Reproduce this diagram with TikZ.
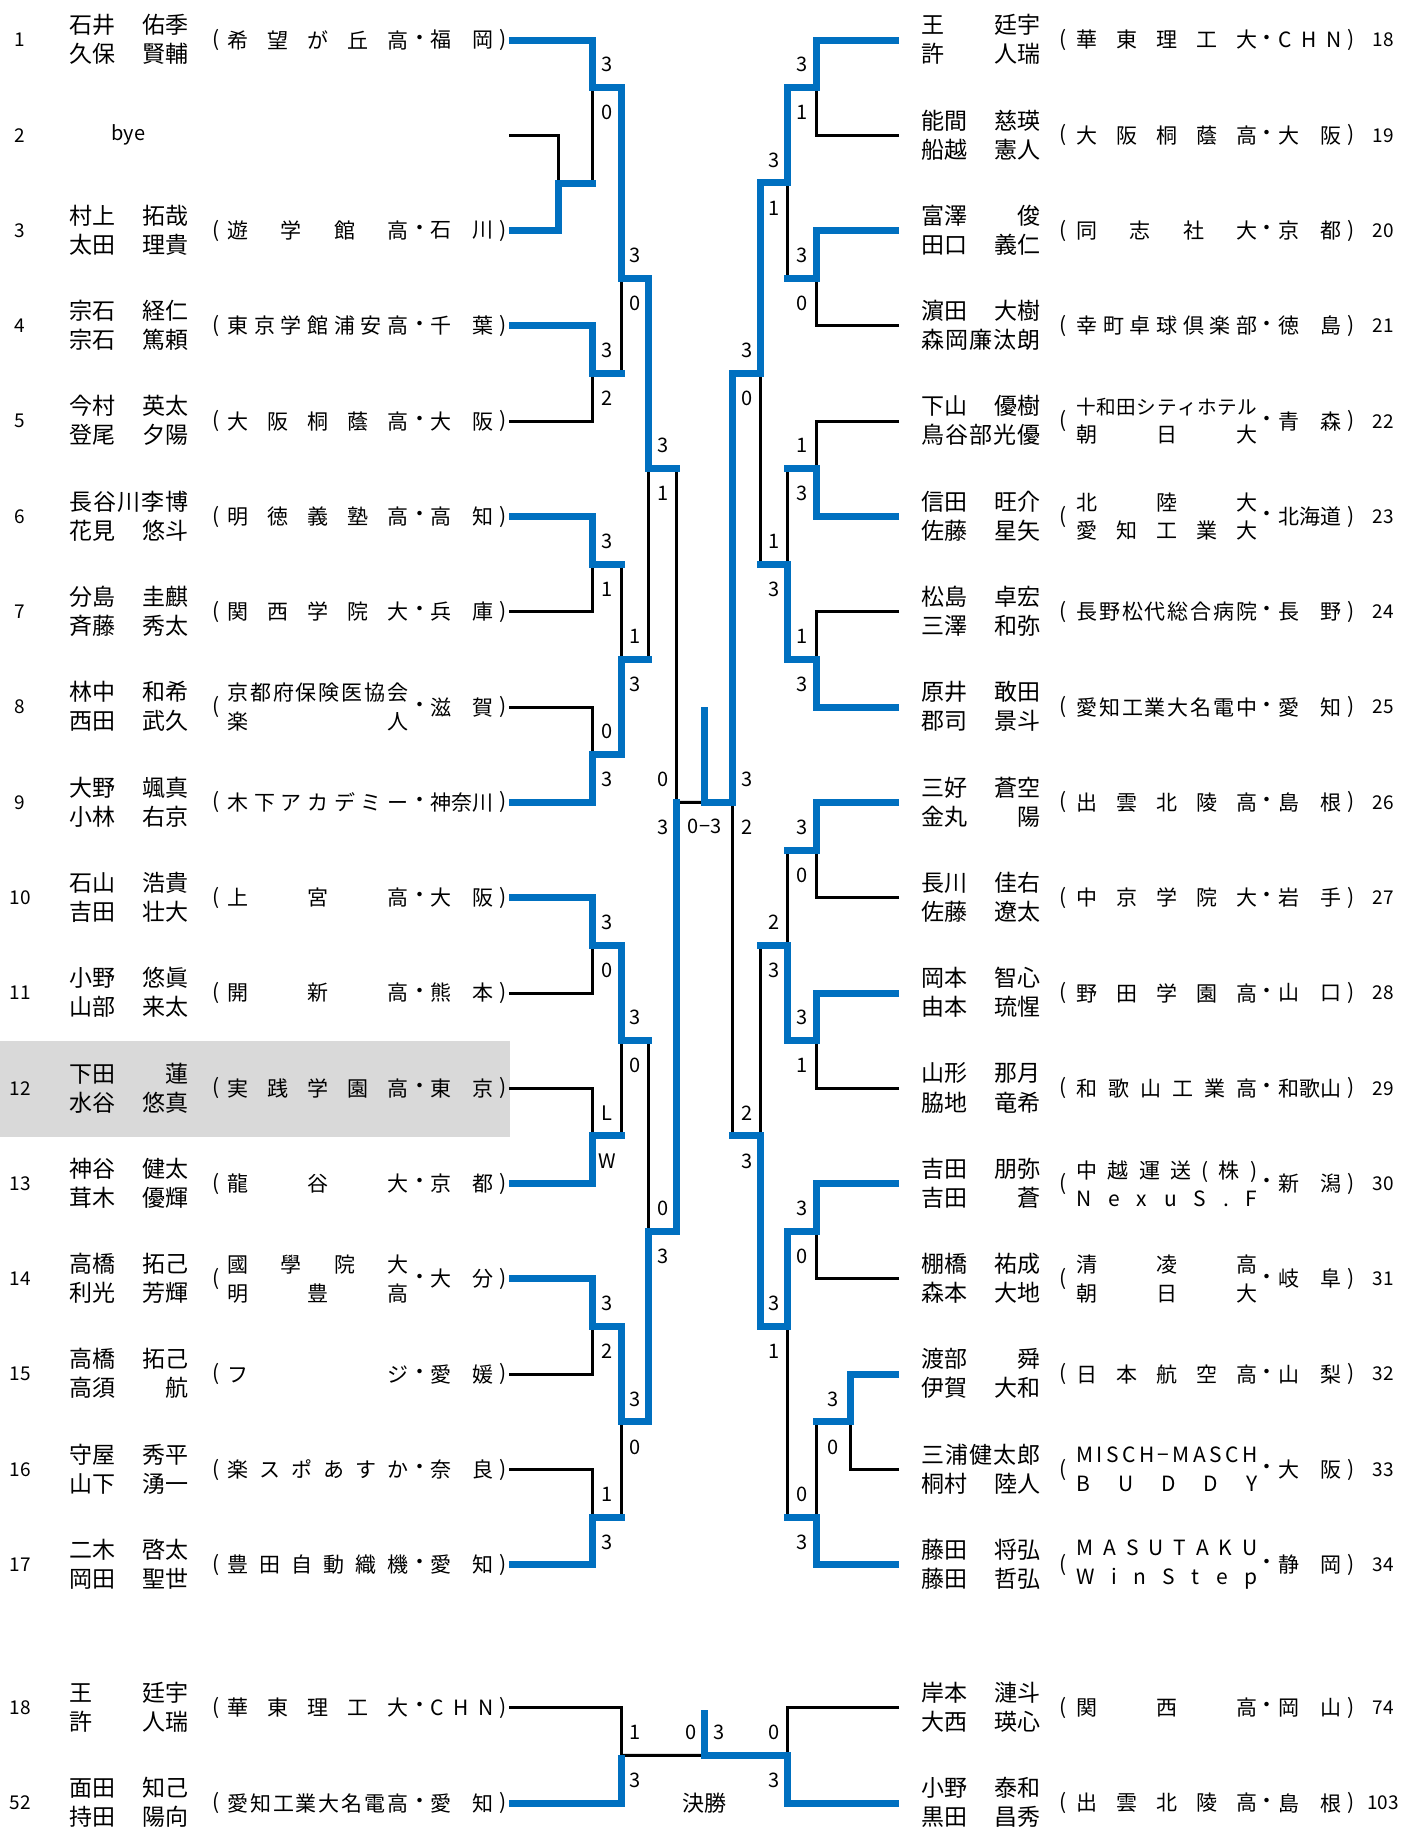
\documentclass[tikz,border=0pt]{standalone}
\usepackage{fontspec}
\setmainfont{Noto Sans CJK JP}
\definecolor{winblue}{HTML}{0070C0}
\definecolor{hilite}{HTML}{D9D9D9}

% spread the letters of a word over a fixed box
\let\spreadend\relax
\def\spreadgo#1#2\spreadend{#1\ifx\spreadend#2\spreadend\else\hfill\spreadgo#2\spreadend\fi}
\newcommand\sch[1]{\makebox[90.5pt][s]{\spreadgo#1\spreadend}}
\newcommand\pref[1]{\makebox[31.5pt][s]{\spreadgo#1\spreadend}}
\newcommand\nm[2]{\makebox[59.5pt][s]{#1\hfill#2}}
\newcommand\nmf[1]{\makebox[59.5pt][s]{\spreadgo#1\spreadend}}

% one pair: id, row, number, name line 1, name line 2, school, prefecture
\newcommand\lentry[7]{%
  \pgfmathsetmacro\ey{40+(#2-1)*95.3}%
  \node[num] (#1n) at (20,\ey) {#3};
  \node[pname] (#1a) at (69,\ey-15) {#4};
  \node[pname] (#1b) at (69,\ey+14) {#5};
  \node[paren] (#1o) at (216,\ey) {(};
  \node[school] (#1s) at (227,\ey) {#6};
  \node[paren] (#1d) at (420,\ey) {・};
  \node[school] (#1p) at (430,\ey) {#7};
  \node[paren] (#1c) at (503,\ey) {)};
  \coordinate (#1) at (509.2,\ey);
}
\newcommand\rentry[7]{%
  \pgfmathsetmacro\ey{40+(#2-1)*95.3}%
  \node[num] (#1n) at (1383,\ey) {#3};
  \node[pname] (#1a) at (921,\ey-15) {#4};
  \node[pname] (#1b) at (921,\ey+14) {#5};
  \node[paren] (#1o) at (1063,\ey) {(};
  \node[school] (#1s) at (1076,\ey) {#6};
  \node[paren] (#1d) at (1267,\ey) {・};
  \node[school] (#1p) at (1278,\ey) {#7};
  \node[paren] (#1c) at (1351,\ey) {)};
  \coordinate (#1) at (899.2,\ey);
}
% a junction with its two scores: name, x, row, score offset, top, bottom
\newcommand\match[6]{%
  \pgfmathsetmacro\my{40+(#3-1)*95.3}%
  \coordinate (#1) at (#2,\my);
  \node[score] (#1t) at (#2#4,\my-23) {#5};
  \node[score] (#1b) at (#2#4,\my+25) {#6};
}

\begin{document}
\begin{tikzpicture}[x=0.5pt,y=-0.5pt,
  num/.style={inner sep=0, font=\fontsize{9.5}{11}\selectfont},
  pname/.style={anchor=west, inner sep=0, font=\fontsize{11.5}{13}\selectfont},
  school/.style={anchor=west, inner sep=0, align=left, font=\fontsize{10.5}{14.3}\selectfont},
  paren/.style={inner sep=0, font=\fontsize{10.5}{12}\selectfont},
  score/.style={inner sep=0, font=\fontsize{10}{12}\selectfont},
  win/.style={draw=winblue, line width=3.5pt},
  wout/.style={win, line cap=rect},
  lose/.style={draw=black, line width=1.5pt}]
\useasboundingbox (0,0) rectangle (1409,1828);
\fill[hilite] (0,1041) rectangle (510,1137);

% left block
\lentry{L1}{1}{1}{\nm{石井}{佑季}}{\nm{久保}{賢輔}}{\sch{希望が丘高}}{\pref{福岡}}
\node[num] (L2n) at (20,135.3) {2};
\node[font=\fontsize{10}{12}\selectfont, inner sep=0] (L2a) at (128.5,135.3) {bye};
\coordinate (L2) at (509.2,135.3);
\lentry{L3}{3}{3}{\nm{村上}{拓哉}}{\nm{太田}{理貴}}{\sch{遊学館高}}{\pref{石川}}
\lentry{L4}{4}{4}{\nm{宗石}{経仁}}{\nm{宗石}{篤頼}}{\sch{東京学館浦安高}}{\pref{千葉}}
\lentry{L5}{5}{5}{\nm{今村}{英太}}{\nm{登尾}{夕陽}}{\sch{大阪桐蔭高}}{\pref{大阪}}
\lentry{L6}{6}{6}{\nmf{長谷川李博}}{\nm{花見}{悠斗}}{\sch{明徳義塾高}}{\pref{高知}}
\lentry{L7}{7}{7}{\nm{分島}{圭麒}}{\nm{斉藤}{秀太}}{\sch{関西学院大}}{\pref{兵庫}}
\lentry{L8}{8}{8}{\nm{林中}{和希}}{\nm{西田}{武久}}{\sch{京都府保険医協会}\\\sch{楽人}}{\pref{滋賀}}
\lentry{L9}{9}{9}{\nm{大野}{颯真}}{\nm{小林}{右京}}{\sch{木下アカデミー}}{\pref{神奈川}}
\lentry{L10}{10}{10}{\nm{石山}{浩貴}}{\nm{吉田}{壮大}}{\sch{上宮高}}{\pref{大阪}}
\lentry{L11}{11}{11}{\nm{小野}{悠眞}}{\nm{山部}{来太}}{\sch{開新高}}{\pref{熊本}}
\lentry{L12}{12}{12}{\nm{下田}{蓮}}{\nm{水谷}{悠真}}{\sch{実践学園高}}{\pref{東京}}
\lentry{L13}{13}{13}{\nm{神谷}{健太}}{\nm{茸木}{優輝}}{\sch{龍谷大}}{\pref{京都}}
\lentry{L14}{14}{14}{\nm{高橋}{拓己}}{\nm{利光}{芳輝}}{\sch{國學院大}\\\sch{明豊高}}{\pref{大分}}
\lentry{L15}{15}{15}{\nm{高橋}{拓己}}{\nm{高須}{航}}{\sch{フジ}}{\pref{愛媛}}
\lentry{L16}{16}{16}{\nm{守屋}{秀平}}{\nm{山下}{湧一}}{\sch{楽スポあすか}}{\pref{奈良}}
\lentry{L17}{17}{17}{\nm{二木}{啓太}}{\nm{岡田}{聖世}}{\sch{豊田自動織機}}{\pref{愛知}}
\lentry{B18}{18.5}{18}{\nm{王}{廷宇}}{\nm{許}{人瑞}}{\sch{華東理工大}}{\pref{CHN}}
\lentry{B52}{19.5}{52}{\nm{面田}{知己}}{\nm{持田}{陽向}}{\sch{愛知工業大名電高}}{\pref{愛知}}

% right block
\rentry{R18}{1}{18}{\nm{王}{廷宇}}{\nm{許}{人瑞}}{\sch{華東理工大}}{\pref{CHN}}
\rentry{R19}{2}{19}{\nm{能間}{慈瑛}}{\nm{船越}{憲人}}{\sch{大阪桐蔭高}}{\pref{大阪}}
\rentry{R20}{3}{20}{\nm{富澤}{俊}}{\nm{田口}{義仁}}{\sch{同志社大}}{\pref{京都}}
\rentry{R21}{4}{21}{\nm{濵田}{大樹}}{\nmf{森岡廉汰朗}}{\sch{幸町卓球倶楽部}}{\pref{徳島}}
\rentry{R22}{5}{22}{\nm{下山}{優樹}}{\nmf{鳥谷部光優}}{{\fontsize{9.8}{14.3}\selectfont\sch{十和田シティホテル}}\\\sch{朝日大}}{\pref{青森}}
\rentry{R23}{6}{23}{\nm{信田}{旺介}}{\nm{佐藤}{星矢}}{\sch{北陸大}\\\sch{愛知工業大}}{\pref{北海道}}
\rentry{R24}{7}{24}{\nm{松島}{卓宏}}{\nm{三澤}{和弥}}{\sch{長野松代総合病院}}{\pref{長野}}
\rentry{R25}{8}{25}{\nm{原井}{敢田}}{\nm{郡司}{景斗}}{\sch{愛知工業大名電中}}{\pref{愛知}}
\rentry{R26}{9}{26}{\nm{三好}{蒼空}}{\nm{金丸}{陽}}{\sch{出雲北陵高}}{\pref{島根}}
\rentry{R27}{10}{27}{\nm{長川}{佳右}}{\nm{佐藤}{遼太}}{\sch{中京学院大}}{\pref{岩手}}
\rentry{R28}{11}{28}{\nm{岡本}{智心}}{\nm{由本}{琉惺}}{\sch{野田学園高}}{\pref{山口}}
\rentry{R29}{12}{29}{\nm{山形}{那月}}{\nm{脇地}{竜希}}{\sch{和歌山工業高}}{\pref{和歌山}}
\rentry{R30}{13}{30}{\nm{吉田}{朋弥}}{\nm{吉田}{蒼}}{\sch{中越運送(株)}\\\sch{NexuS.F}}{\pref{新潟}}
\rentry{R31}{14}{31}{\nm{棚橋}{祐成}}{\nm{森本}{大地}}{\sch{清凌高}\\\sch{朝日大}}{\pref{岐阜}}
\rentry{R32}{15}{32}{\nm{渡部}{舜}}{\nm{伊賀}{大和}}{\sch{日本航空高}}{\pref{山梨}}
\rentry{R33}{16}{33}{\nmf{三浦健太郎}}{\nm{桐村}{陸人}}{\sch{MISCH−MASCH}\\\sch{BUDDY}}{\pref{大阪}}
\rentry{R34}{17}{34}{\nm{藤田}{将弘}}{\nm{藤田}{哲弘}}{\sch{MASUTAKU}\\\sch{WinStep}}{\pref{静岡}}
\rentry{B74}{18.5}{74}{\nm{岸本}{漣斗}}{\nm{大西}{瑛心}}{\sch{関西高}}{\pref{岡山}}
\rentry{B103}{19.5}{103}{\nm{小野}{泰和}}{\nm{黒田}{昌秀}}{\sch{出雲北陵高}}{\pref{島根}}

% junctions, left
\coordinate (pa) at (558.2,183);
\match{p1}{592.4}{1.5}{+15}{3}{0}
\match{p2}{592.4}{4.5}{+15}{3}{2}
\match{p3}{621.2}{3.5}{+14}{3}{0}
\match{p4}{592.4}{6.5}{+15}{3}{1}
\match{p5}{592.4}{8.5}{+15}{0}{3}
\match{p6}{621.2}{7.5}{+14}{1}{3}
\match{p7}{648.4}{5.5}{+15}{3}{1}
\match{p8}{592.4}{10.5}{+15}{3}{0}
\match{p9}{592.4}{12.5}{+15}{L}{W}
\match{p10}{621.2}{11.5}{+14}{3}{0}
\match{p11}{592.4}{14.5}{+15}{3}{2}
\match{p12}{592.4}{16.5}{+15}{1}{3}
\match{p13}{621.2}{15.5}{+14}{3}{0}
\match{p14}{648.4}{13.5}{+15}{0}{3}
\match{ps}{676.2}{9}{-13}{0}{3}
% junctions, right
\match{q1}{816}{1.5}{-14}{3}{1}
\match{q2}{816}{3.5}{-14}{3}{0}
\match{q3}{787.2}{2.5}{-13}{3}{1}
\match{q4}{816}{5.5}{-14}{1}{3}
\match{q5}{816}{7.5}{-14}{1}{3}
\match{q6}{787.2}{6.5}{-13}{1}{3}
\match{q7}{760}{4.5}{-13}{3}{0}
\match{q8}{816}{9.5}{-14}{3}{0}
\match{q9}{816}{11.5}{-14}{3}{1}
\match{q10}{787.2}{10.5}{-13}{2}{3}
\match{q11}{816}{13.5}{-14}{3}{0}
\match{q12}{850.2}{15.5}{-17}{3}{0}
\match{q13}{816}{16.5}{-14}{0}{3}
\match{q14}{787.2}{14.5}{-13}{3}{1}
\match{q15}{760}{12.5}{-13}{2}{3}
\match{qs}{732.2}{9}{+14.5}{3}{2}
\match{bl}{621.2}{19}{+14}{1}{3}
\match{br}{787.2}{19}{-13}{0}{3}
% finals
\coordinate (fin) at (704.2,802.4);
\coordinate (fint) at (704.2,710);
\coordinate (bf) at (704.2,1755.4);
\coordinate (bft) at (704.2,1713.5);
\node[score] (fins) at (704.6,826.5) {0−3};
\node[score] (bf0) at (690.7,1732.4) {0};
\node[score] (bf3) at (718.7,1732.4) {3};
\node[font=\fontsize{11}{13}\selectfont, inner sep=0] (title) at (704.2,1803) {決勝};

% losing arms
\draw[lose] (L2) -| (pa);
\draw[lose] (pa) -| (p1);
\draw[lose] (L5) -| (p2);
\draw[lose] (p2) -| (p3);
\draw[lose] (L7) -| (p4);
\draw[lose] (L8) -| (p5);
\draw[lose] (p4) -| (p6);
\draw[lose] (p6) -| (p7);
\draw[lose] (L11) -| (p8);
\draw[lose] (L12) -| (p9);
\draw[lose] (p9) -| (p10);
\draw[lose] (L15) -| (p11);
\draw[lose] (L16) -| (p12);
\draw[lose] (p12) -| (p13);
\draw[lose] (p10) -| (p14);
\draw[lose] (p7) -| (ps);
\draw[lose] (ps) -- (fin);
\draw[lose] (R19) -| (q1);
\draw[lose] (R21) -| (q2);
\draw[lose] (q2) -| (q3);
\draw[lose] (R22) -| (q4);
\draw[lose] (R24) -| (q5);
\draw[lose] (q4) -| (q6);
\draw[lose] (q6) -| (q7);
\draw[lose] (R27) -| (q8);
\draw[lose] (R29) -| (q9);
\draw[lose] (q8) -| (q10);
\draw[lose] (R31) -| (q11);
\draw[lose] (R33) -| (q12);
\draw[lose] (q12) -| (q13);
\draw[lose] (q13) -| (q14);
\draw[lose] (q10) -| (q15);
\draw[lose] (q15) -| (qs);
\draw[lose] (B18) -| (bl);
\draw[lose] (B74) -| (br);
\draw[lose] (bl) -- (bf);

% winning arms
\draw[win] (L3) -| (pa);
\draw[win] (L1) -| (p1);
\draw[win] (L4) -| (p2);
\draw[win] (L6) -| (p4);
\draw[win] (L9) -| (p5);
\draw[win] (L10) -| (p8);
\draw[win] (L13) -| (p9);
\draw[win] (L14) -| (p11);
\draw[win] (L17) -| (p12);
\draw[win] (R18) -| (q1);
\draw[win] (R20) -| (q2);
\draw[win] (R23) -| (q4);
\draw[win] (R25) -| (q5);
\draw[win] (R26) -| (q8);
\draw[win] (R28) -| (q9);
\draw[win] (R30) -| (q11);
\draw[win] (R32) -| (q12);
\draw[win] (R34) -| (q13);
\draw[win] (B52) -| (bl);
\draw[win] (B103) -| (br);
\draw[wout] (pa) -- (pa -| p1);
\draw[wout] (p1) -| (p3);
\draw[wout] (p2) -- (p2 -| p3);
\draw[wout] (p4) -- (p4 -| p6);
\draw[wout] (p5) -| (p6);
\draw[wout] (p3) -| (p7);
\draw[wout] (p6) -- (p6 -| p7);
\draw[wout] (p8) -| (p10);
\draw[wout] (p9) -- (p9 -| p10);
\draw[wout] (p11) -| (p13);
\draw[wout] (p12) -- (p12 -| p13);
\draw[wout] (p13) -| (p14);
\draw[wout] (p10) -- (p10 -| p14);
\draw[wout] (p14) -| (ps);
\draw[wout] (p7) -- (p7 -| ps);
\draw[wout] (q1) -| (q3);
\draw[wout] (q2) -- (q2 -| q3);
\draw[wout] (q5) -| (q6);
\draw[wout] (q4) -- (q4 -| q6);
\draw[wout] (q3) -| (q7);
\draw[wout] (q6) -- (q6 -| q7);
\draw[wout] (q9) -| (q10);
\draw[wout] (q8) -- (q8 -| q10);
\draw[wout] (q11) -| (q14);
\draw[wout] (q12) -- (q12 -| q13);
\draw[wout] (q13) -- (q13 -| q14);
\draw[wout] (q14) -| (q15);
\draw[wout] (q10) -- (q10 -| q15);
\draw[wout] (q7) -| (qs);
\draw[wout] (q15) -- (q15 -| qs);
\draw[wout] (qs) -| (fint);
\draw[wout] (br) -| (bft);
\end{tikzpicture}
\end{document}
